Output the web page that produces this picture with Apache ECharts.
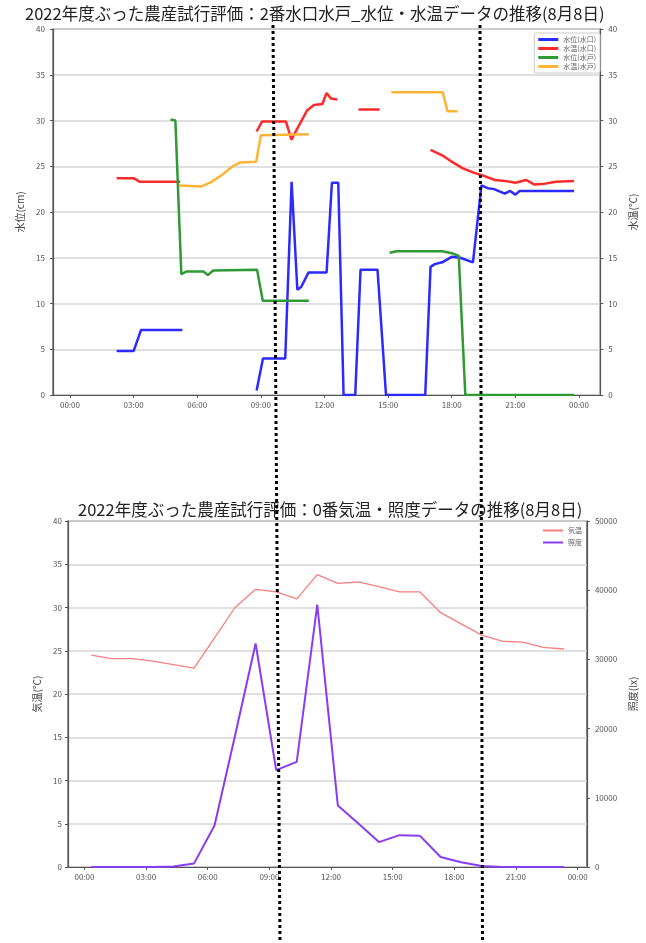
<!DOCTYPE html>
<html><head><meta charset="utf-8">
<script src="https://cdn.jsdelivr.net/npm/echarts@6/dist/echarts.min.js"></script>
<style>html,body{margin:0;padding:0;background:#fff}#c{width:646px;height:943px}</style>
</head><body><div id="c"></div>
<script>
// ---------- data (hours of day, values) ----------
const titleTop = '2022年度ぶった農産試行評価：2番水口水戸_水位・水温データの推移(8月8日)';
const titleBottom = '2022年度ぶった農産試行評価：0番気温・照度データの推移(8月8日)';
const hourTicks = [0, 3, 6, 9, 12, 15, 18, 21, 24];

const topNames = ['水位(水口)', '水温(水口)', '水位(水戸)', '水温(水戸)'];
const levelInlet = [[2.2,4.8],[3.0,4.8],[3.35,7.1],[5.3,7.1],[5.6,null],
  [8.8,0.5],[9.1,4.0],[10.15,4.0],[10.45,23.3],[10.72,11.5],[10.9,11.8],[11.25,13.4],[12.1,13.4],[12.35,23.2],[12.65,23.2],[12.9,0],[13.45,0],[13.7,13.7],[14.5,13.7],[14.9,0],[16.75,0],[17.0,14.0],[17.2,14.3],[17.55,14.5],[18.0,15.1],[18.4,15.0],[19.0,14.5],[19.4,22.9],[19.7,22.6],[20.0,22.5],[20.3,22.2],[20.5,22.0],[20.75,22.3],[21.0,21.9],[21.2,22.3],[21.7,22.3],[22.5,22.3],[23.77,22.3]];
const tempInlet = [[2.2,23.7],[3.0,23.7],[3.3,23.3],[5.2,23.3],[5.5,null],
  [8.8,28.8],[9.06,29.9],[10.18,29.9],[10.44,27.9],[11.18,31.1],[11.5,31.7],[11.9,31.8],[12.1,33.0],[12.3,32.4],[12.6,32.3],[12.8,null],
  [13.6,31.2],[14.6,31.2],[14.8,null],
  [17.0,26.8],[17.55,26.2],[18.0,25.5],[18.5,24.8],[19.03,24.3],[19.57,23.9],[20.04,23.5],[20.5,23.4],[21.0,23.2],[21.5,23.5],[21.9,23.0],[22.4,23.1],[22.9,23.3],[23.77,23.4]];
const levelOutlet = [[4.74,30.1],[4.97,30.0],[5.25,13.2],[5.5,13.5],[6.3,13.5],[6.5,13.1],[6.75,13.6],[8.82,13.7],[9.09,10.3],[11.26,10.3],[11.5,null],
  [15.07,15.55],[15.4,15.7],[17.55,15.7],[18.0,15.5],[18.33,15.2],[18.64,0],[23.77,0]];
const tempOutlet = [[5.13,22.9],[6.2,22.8],[6.68,23.3],[7.14,24.0],[7.61,24.9],[8.0,25.4],[8.78,25.5],[9.0,28.4],[11.26,28.5],[11.5,null],
  [15.15,33.1],[17.57,33.1],[17.8,31.0],[18.27,31.0]];

const bottomNames = ['気温', '照度'];
const sampleHours = [0.33,1.33,2.33,3.33,4.33,5.33,6.33,7.33,8.33,9.33,10.33,11.33,12.33,13.33,14.33,15.33,16.33,17.33,18.33,19.33,20.33,21.33,22.33,23.33];
const airTemp = [24.5,24.1,24.1,23.8,23.4,23.0,26.5,30.0,32.1,31.8,31.0,33.8,32.8,32.95,32.4,31.8,31.8,29.4,28.1,26.8,26.1,26.0,25.4,25.2];
const illuminance = [0,0,0,0,80,490,6000,19000,32300,14000,15200,37900,8900,6300,3600,4600,4500,1450,700,150,0,0,0,0];

// ---------- chart ----------
const FONT = 'Noto Sans CJK JP';
const fmtHour = v => { const h = Math.round(v) % 24; return (h < 10 ? '0' : '') + h + ':00'; };
const pairs = (xs, ys) => xs.map((x, i) => [x, ys[i]]);
const axisCol = '#555';

function xAxisFor(gridIndex, min, max) {
  return {
    type: 'value', gridIndex, min, max,
    axisLine: { show: true, onZero: false, lineStyle: { color: axisCol, width: 1.2 } },
    axisTick: { show: true, customValues: hourTicks, length: 3, lineStyle: { color: axisCol } },
    axisLabel: { customValues: hourTicks, formatter: fmtHour, fontSize: 8, color: '#555', fontFamily: FONT, margin: 6 },
    splitLine: { show: false }
  };
}
function yAxisFor(gridIndex, pos, max, interval, name, nameGap, split, labelMargin) {
  return {
    type: 'value', gridIndex, position: pos, min: 0, max, interval,
    name, nameLocation: 'middle', nameRotate: 90, nameGap,
    nameTextStyle: { fontSize: 10, color: '#444', fontFamily: FONT },
    axisLine: { show: true, onZero: false, lineStyle: { color: axisCol, width: 1.2 } },
    axisTick: { show: true, length: 3, lineStyle: { color: axisCol } },
    axisLabel: { fontSize: 8, color: '#555', fontFamily: FONT, margin: labelMargin, formatter: v => String(v) },
    splitLine: { show: split, lineStyle: { color: '#d6d6d6', width: 1.5 } }
  };
}
function line(name, data, color, width, xi, yi) {
  return { name, type: 'line', data, xAxisIndex: xi, yAxisIndex: yi, showSymbol: false, symbol: 'none',
    connectNulls: false, lineStyle: { color, width }, itemStyle: { color }, animation: false };
}

const chart = echarts.init(document.getElementById('c'), null, { renderer: 'canvas' });
chart.setOption({
  backgroundColor: '#fff',
  animation: false,
  title: [
    { text: titleTop, left: 20, top: 0, textStyle: { fontSize: 16.5, fontWeight: 'normal', color: '#222', fontFamily: FONT } },
    { text: titleBottom, left: 73, top: 496, textStyle: { fontSize: 16.5, fontWeight: 'normal', color: '#222', fontFamily: FONT } }
  ],
  legend: [
    { data: topNames, orient: 'vertical', right: 46, top: 33, itemWidth: 20, itemHeight: 3, itemGap: 0, icon: 'rect',
      padding: [2, 4], borderColor: '#ccc', borderWidth: 1, borderRadius: 2, backgroundColor: '#fff',
      textStyle: { fontSize: 7, lineHeight: 9, color: '#666', fontFamily: FONT } },
    { data: bottomNames, orient: 'vertical', right: 62, top: 526, itemWidth: 20, itemHeight: 2, itemGap: 3, icon: 'rect',
      padding: [0, 2],
      textStyle: { fontSize: 7, lineHeight: 9, color: '#666', fontFamily: FONT } }
  ],
  grid: [
    { left: 53, right: 39, top: 29, height: 366, show: true, borderColor: axisCol, borderWidth: 1.2, containLabel: false },
    { left: 68, right: 54, top: 521, height: 346, show: true, borderColor: axisCol, borderWidth: 1.2, containLabel: false }
  ],
  xAxis: [xAxisFor(0, -0.8, 25.0), xAxisFor(1, -0.8, 24.45)],
  yAxis: [
    yAxisFor(0, 'left', 40, 5, '水位(cm)', 27, true, 8),
    yAxisFor(0, 'right', 40, 5, '水温(℃)', 20, false, 8),
    yAxisFor(1, 'left', 40, 5, '気温(℃)', 25, true, 6),
    yAxisFor(1, 'right', 50000, 10000, '照度(lx)', 36, false, 8)
  ],
  series: [
    line(topNames[0], levelInlet, '#2b2bff', 2.5, 0, 0),
    line(topNames[1], tempInlet, '#ff2a2a', 2.5, 0, 1),
    line(topNames[2], levelOutlet, '#2e9a33', 2.5, 0, 0),
    line(topNames[3], tempOutlet, '#ffb436', 2.5, 0, 1),
    line(bottomNames[0], pairs(sampleHours, airTemp), '#f4817f', 1.3, 1, 2),
    line(bottomNames[1], pairs(sampleHours, illuminance), '#8a3cf0', 2, 1, 3)
  ],
  graphic: [
    { type: 'line', silent: true, z: 100, shape: { x1: 273, y1: 25, x2: 280, y2: 943 }, style: { stroke: '#000', lineWidth: 3, lineDash: [3, 3] } },
    { type: 'line', silent: true, z: 100, shape: { x1: 480, y1: 25, x2: 482.5, y2: 943 }, style: { stroke: '#000', lineWidth: 3, lineDash: [3, 3] } }
  ]
});
</script></body></html>
